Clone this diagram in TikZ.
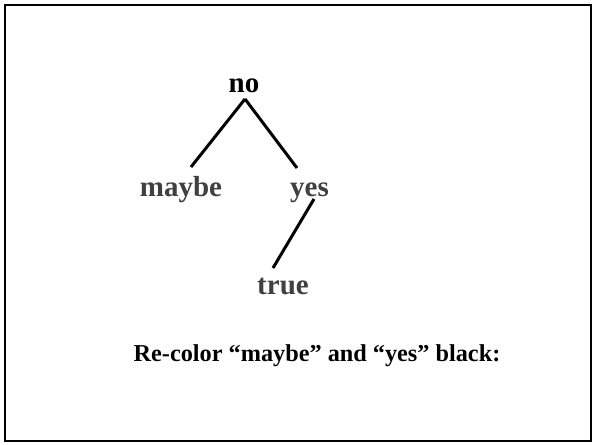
\documentclass[tikz,border=0pt]{standalone}
\usepackage{fontspec}
\setmainfont{Liberation Serif}
\usepackage{tikz}
\usetikzlibrary{calc}
\definecolor{leafgray}{RGB}{64,64,64}
\definecolor{mydark}{RGB}{0,0,0}
\tikzset{
  label/.style={anchor=base, inner sep=0pt, font=\fontsize{21.75}{26}\selectfont\bfseries},
  rootlabel/.style={label, text=mydark},
  leaflabel/.style={label, text=leafgray},
  caption/.style={anchor=base, inner sep=0pt, font=\fontsize{18.2}{22}\selectfont\bfseries, text=mydark},
  branch/.style={line width=2.25pt, color=mydark},
  frame/.style={line width=1.5pt, color=mydark}
}
\begin{document}
\begin{tikzpicture}[x=0.75pt, y=0.75pt]
  \useasboundingbox (0,0) rectangle (594,445);
  \draw[frame] (5,4) rectangle (591,440);

  % tree labels
  \node[rootlabel] (no)    at (244,352)   {no};
  \node[leaflabel] (maybe) at (181,248)   {maybe};
  \node[leaflabel] (yes)   at (309.5,248) {yes};
  \node[leaflabel] (true)  at (283,150)   {true};

  % branches
  \draw[branch] ($(no.base)+(1,-6)$)   -- ($(maybe.base)+(10,30)$);
  \draw[branch] ($(no.base)+(1,-6)$)   -- ($(yes.base)+(-12.5,29)$);
  \draw[branch] ($(yes.base)+(4.5,-2)$) -- ($(true.base)+(-10,27)$);

  \node[caption] (recolor) at (317,83) {Re-color “maybe” and “yes” black:};
\end{tikzpicture}
\end{document}
